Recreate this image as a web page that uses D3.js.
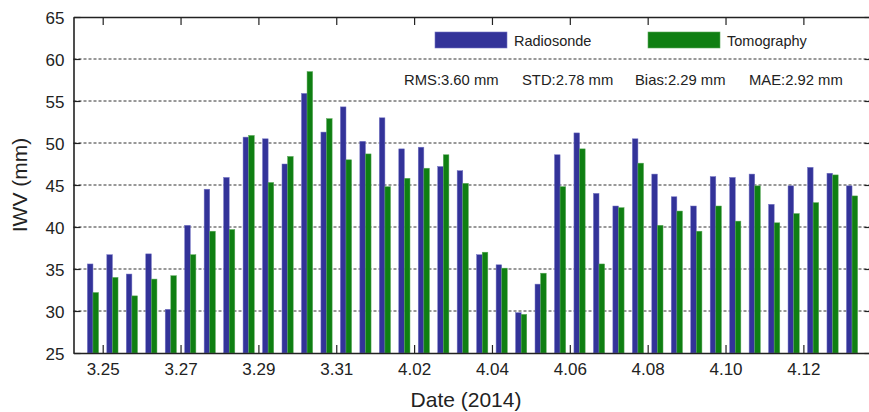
<!DOCTYPE html>
<html>
<head>
<meta charset="utf-8">
<script src="https://cdn.jsdelivr.net/npm/d3@7"></script>
<style>
  body { margin: 0; background: #fff; }
  svg text { font-family: "Liberation Sans", Arial, Helvetica, sans-serif; fill: #222; }
</style>
</head>
<body>
<div id="chart"></div>
<script>
// days of the campaign, two soundings per day (00 and 12 UTC)
const days = ["3.25", "3.26", "3.27", "3.28", "3.29", "3.30", "3.31", "4.01", "4.02", "4.03",
  "4.04", "4.05", "4.06", "4.07", "4.08", "4.09", "4.10", "4.11", "4.12", "4.13"];
const hours = ["00", "12"];
const tickDays = ["3.25", "3.27", "3.29", "3.31", "4.02", "4.04", "4.06", "4.08", "4.10", "4.12"];

const radiosonde = [35.6, 36.7, 34.4, 36.8, 30.2, 40.2, 44.5, 45.9, 50.7, 50.5,
  47.5, 55.9, 51.3, 54.3, 50.2, 53.0, 49.3, 49.5, 47.2, 46.7,
  36.7, 35.5, 29.8, 33.2, 48.6, 51.2, 44.0, 42.5, 50.5, 46.3,
  43.6, 42.5, 46.0, 45.9, 46.3, 42.7, 44.9, 47.1, 46.4, 44.9];
const tomography = [32.2, 34.0, 31.8, 33.8, 34.2, 36.7, 39.5, 39.7, 50.9, 45.3,
  48.4, 58.5, 52.9, 48.0, 48.7, 44.8, 45.8, 47.0, 48.6, 45.2,
  37.0, 35.1, 29.6, 34.5, 44.8, 49.3, 35.6, 42.3, 47.6, 40.2,
  41.9, 39.5, 42.5, 40.7, 44.9, 40.5, 41.6, 42.9, 46.2, 43.7];

const stats = ["RMS:3.60 mm", "STD:2.78 mm", "Bias:2.29 mm", "MAE:2.92 mm"];
const series = ["Radiosonde", "Tomography"];
const yTicks = [25, 30, 35, 40, 45, 50, 55, 60, 65];

const width = 869, height = 412;
const margin = { top: 17, right: -2.5, bottom: 59, left: 73.5 };

const color = d3.scaleOrdinal().domain(series).range(["#333399", "#0f7f12"]);

// one record per sounding
const obs = [];
days.forEach((d, i) => {
  hours.forEach((h, j) => {
    const k = i * 2 + j;
    obs.push({ idx: k, day: d, hour: h, Radiosonde: radiosonde[k], Tomography: tomography[k] });
  });
});

const svg = d3.select("#chart").append("svg")
  .attr("width", width).attr("height", height);

const xScale = d3.scaleLinear([-1, obs.length], [margin.left, width - margin.right]);
const yScale = d3.scaleLinear([25, 65], [height - margin.bottom, margin.top]);

// tick sits in the middle of a day's two soundings
const tickPos = tickDays.map((d) => days.indexOf(d) * 2 + 0.5);

// dashed grid
svg.append("g")
  .selectAll("line")
  .data(yTicks.filter((t) => t > 25 && t < 65))
  .join("line")
  .attr("x1", margin.left).attr("x2", width - margin.right)
  .attr("y1", (d) => yScale(d)).attr("y2", (d) => yScale(d))
  .attr("stroke", "#333").attr("stroke-width", 1)
  .attr("stroke-dasharray", "3,2");

// bars
const barW = 5.6;
const bars = svg.append("g")
  .selectAll("g")
  .data(obs)
  .join("g")
  .attr("transform", (d) => `translate(${xScale(d.idx)},0)`);

bars.selectAll("rect")
  .data((d) => series.map((s, j) => ({ key: s, value: d[s], j: j })))
  .join("rect")
  .attr("x", (d) => (d.j === 0 ? -barW : 0))
  .attr("y", (d) => yScale(d.value))
  .attr("width", barW)
  .attr("height", (d) => yScale(25) - yScale(d.value))
  .attr("fill", (d) => color(d.key))
  .attr("stroke", (d) => (d.j === 0 ? "#7474c4" : "#5aa85a"))
  .attr("stroke-width", 0.5);

// axes, ticks pointing inward
const fmt = (v) => tickDays[tickPos.indexOf(v)];

svg.append("g")
  .attr("transform", `translate(0,${height - margin.bottom})`)
  .call(d3.axisBottom(xScale).tickValues(tickPos).tickFormat(fmt)
    .tickSizeInner(-8).tickSizeOuter(0).tickPadding(10));

svg.append("g")
  .attr("transform", `translate(0,${margin.top})`)
  .call(d3.axisTop(xScale).tickValues(tickPos).tickFormat("")
    .tickSizeInner(-8).tickSizeOuter(0));

const yLeft = svg.append("g")
  .attr("transform", `translate(${margin.left},0)`)
  .call(d3.axisLeft(yScale).tickValues(yTicks).tickFormat(d3.format("d"))
    .tickSizeInner(-7).tickSizeOuter(0).tickPadding(9));

svg.append("g")
  .attr("transform", `translate(${width - margin.right},0)`)
  .call(d3.axisRight(yScale).tickValues(yTicks).tickFormat("")
    .tickSizeInner(-7).tickSizeOuter(0));

svg.selectAll(".domain").attr("stroke", "#222").attr("stroke-width", 1.6);
svg.selectAll(".tick line").attr("stroke", "#222").attr("stroke-width", 1.2);
svg.selectAll(".tick text").style("font-size", "17px").attr("fill", "#222");
yLeft.selectAll(".tick text").attr("dy", "0.36em");

// axis titles
svg.append("text")
  .attr("x", 466)
  .attr("y", 407)
  .attr("text-anchor", "middle")
  .style("font-size", "21px")
  .text("Date (2014)");

svg.append("text")
  .attr("transform", `translate(27,${(margin.top + height - margin.bottom) / 2}) rotate(-90)`)
  .attr("text-anchor", "middle")
  .style("font-size", "21px")
  .text("IWV (mm)");

// legend
const legend = svg.append("g");
const legX = [435, 648];
legend.selectAll("rect")
  .data(series)
  .join("rect")
  .attr("x", (d, i) => legX[i])
  .attr("y", 32)
  .attr("width", 72)
  .attr("height", 16)
  .attr("fill", (d) => color(d))
  .attr("stroke", (d, i) => (i === 0 ? "#7474c4" : "#5aa85a"))
  .attr("stroke-width", 0.6);

legend.selectAll("text")
  .data(series)
  .join("text")
  .attr("x", (d, i) => legX[i] + 79)
  .attr("y", 41)
  .attr("dy", "0.36em")
  .style("font-size", "14.5px")
  .text((d) => d);

// error statistics
const statX = [404, 522, 635, 749];
svg.append("g")
  .selectAll("text")
  .data(stats)
  .join("text")
  .attr("x", (d, i) => statX[i])
  .attr("y", 80)
  .attr("dy", "0.36em")
  .style("font-size", "14.8px")
  .text((d) => d);
</script>
</body>
</html>
